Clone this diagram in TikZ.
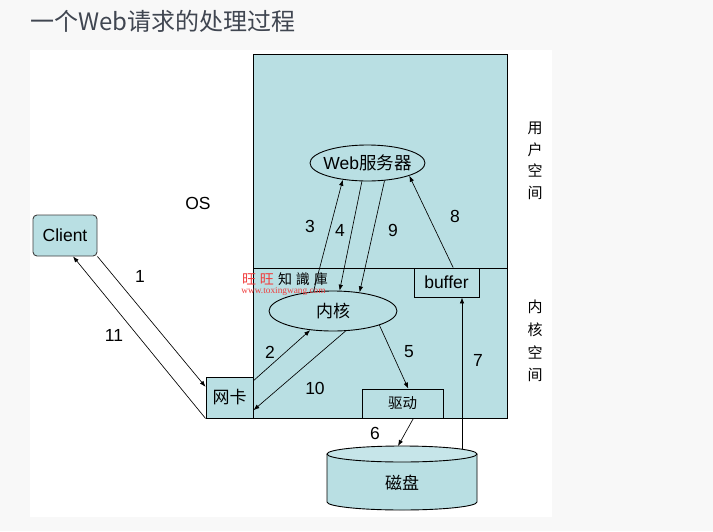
\documentclass[tikz,border=0pt]{standalone}
\usepackage{fontspec}
\setmainfont{Liberation Sans}
\newfontfamily\cjk{Noto Sans CJK SC}
\newfontfamily\wmserif{Liberation Serif}
\usetikzlibrary{shapes.geometric,arrows.meta}

\begin{document}
\begin{tikzpicture}[x=1pt,y=-1pt,
  box/.style={draw,fill=spaceBlue,line width=0.9pt,inner sep=0pt,font=\cjk\fontsize{17}{17}\selectfont},
  oval/.style={ellipse,draw,fill=spaceBlue,line width=0.9pt,inner sep=0pt,inner xsep=-12pt},
  link/.style={-{Latex[length=6pt,width=4.5pt]},line width=0.65pt},
  num/.style={font=\fontsize{17.5}{18}\selectfont}]
\definecolor{pageGray}{HTML}{F8F8F8}
\definecolor{spaceBlue}{HTML}{B9DFE3}
\definecolor{diskTop}{HTML}{C6E5E9}
\definecolor{titleGray}{HTML}{404651}
\definecolor{wmRed}{HTML}{F03C3C}
\fill[pageGray] (0,0) rectangle (713,531);
\fill[white] (30,50) rectangle (552,517);
\node[anchor=west,inner sep=0pt,text=titleGray,font=\cjk\fontsize{24}{24}\selectfont] (title) at (30,21) {一个Web请求的处理过程};
\filldraw[fill=spaceBlue,line width=0.9pt] (253,54) rectangle (507,268);
\filldraw[fill=spaceBlue,line width=0.9pt] (253,268) rectangle (507,418);
\node[font=\cjk\fontsize{15}{21.5}\selectfont,align=center] (userlab) at (535,161) {用\\户\\空\\间};
\node[font=\cjk\fontsize{15}{22.8}\selectfont,align=center] (kernlab) at (535,341) {内\\核\\空\\间};
\node[box,rounded corners=4pt,draw=black!75,minimum width=64pt,minimum height=41pt,font=\fontsize{17.5}{18}\selectfont] (client) at (65,235.5) {Client};
\node[box,minimum width=47pt,minimum height=41pt] (nic) at (229.5,397.5) {网卡};
\node[box,minimum width=81pt,minimum height=29pt,font=\cjk\fontsize{14.5}{15}\selectfont] (driver) at (402.5,403.5) {驱动};
\node[box,minimum width=65pt,minimum height=29pt,font=\fontsize{17.5}{18}\selectfont] (buffer) at (446.5,282.5) {buffer};
\node[oval,minimum width=115pt,minimum height=36pt,font=\fontsize{17.5}{18}\selectfont] (web) at (367.5,163) {Web{\cjk 服务器}};
\node[oval,minimum width=128pt,minimum height=40pt,font=\cjk\fontsize{17}{17}\selectfont] (kernel) at (333,311) {内核};
\node[font=\cjk\fontsize{14}{14}\selectfont,inner sep=0pt] (wmark) at (285,279) {{\color{wmRed}旺\hspace{4pt}旺}\hspace{4pt}知\hspace{4pt}識\hspace{4pt}庫};
\node[font=\wmserif\fontsize{9.3}{10}\selectfont,text=wmRed,inner sep=0pt] (wmurl) at (283.5,291.5) {www.toxingwang.com};
\fill[spaceBlue] (327,454) -- (327,502) arc[start angle=180,end angle=360,x radius=75pt,y radius=8pt] -- (477,454) -- cycle;
\draw[line width=0.9pt] (327,454) -- (327,502) arc[start angle=180,end angle=360,x radius=75pt,y radius=8pt] -- (477,454);
\filldraw[fill=diskTop,line width=0.9pt] (402,454) ellipse[x radius=75pt,y radius=8pt];
\node[font=\cjk\fontsize{17}{17}\selectfont] (disk) at (402,483) {磁盘};
\coordinate (disk6) at (398,446);
\coordinate (disk7) at (462,449);
\node[num] (os) at (198,203) {OS};
\foreach \px/\py/\lab in {140/276/1,270/352/2,310/226/3,340/230/4,409/352/5,375/433/6,478/360/7,455/216/8,393/230/9,315/388/10,114/335/11}
  \node[num] (num\lab) at (\px,\py) {\lab};
\draw[link] (client.south east) -- (nic.156);
\draw[link] (nic.south west) -- (client.-69);
\draw[link] (nic.35) -- (kernel.220);
\draw[link] (kernel.-58) -- (nic.-28);
\draw[link] (kernel.135) -- (web.214);
\draw[link] (web.253) -- (kernel.72);
\draw[link] (web.-46) -- (kernel.35);
\draw[link] (kernel.-17) -- (driver.69);
\draw[link] (driver.-54) -- (disk6);
\draw[link] (disk7) -- (disk7 |- buffer.south);
\draw[link] (buffer.66) -- (web.-17);
\end{tikzpicture}
\end{document}
